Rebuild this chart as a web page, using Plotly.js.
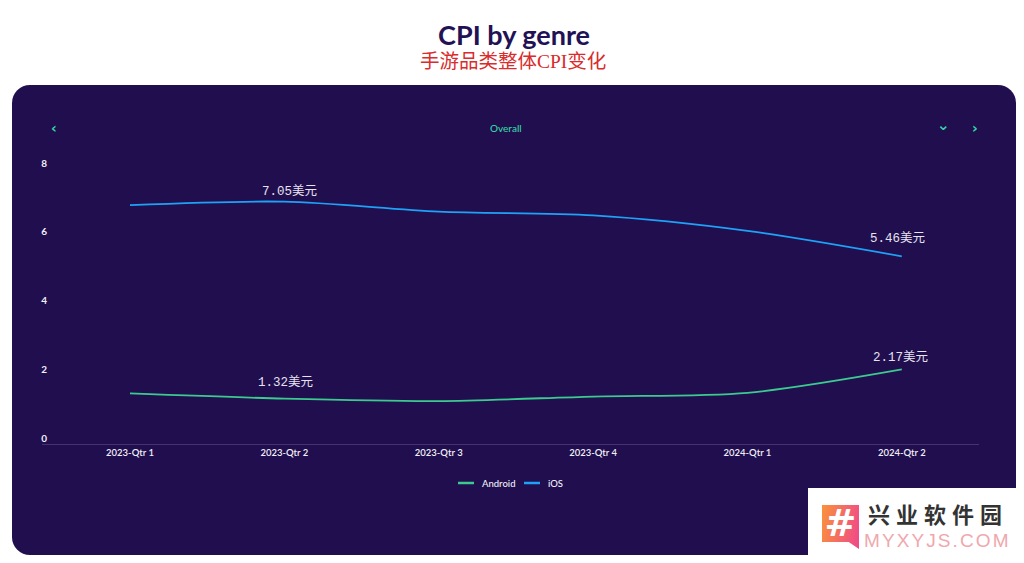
<!DOCTYPE html>
<html><head><meta charset="utf-8">
<script src="https://cdn.plot.ly/plotly-3.0.1.min.js"></script>
<style>
html,body{margin:0;padding:0;background:#fff;width:1024px;height:563px;overflow:hidden}
#panel{position:absolute;left:12px;top:85px;width:1004px;height:470px;background:#200e4f;border-radius:18px}
#chart{position:absolute;left:0;top:0;width:1024px;height:563px}
#wm{position:absolute;left:808px;top:488px;width:216px;height:75px;background:#fff;overflow:hidden}
#icon{position:absolute;left:14px;top:17px;width:37px;height:44px;background:linear-gradient(100deg,#f9923a,#f0478c);color:#fff;font:bold 38px/37px "DejaVu Sans";text-align:center;clip-path:polygon(0 0,100% 0,100% 100%,72% 84%,0 84%)}
#wm1{position:absolute;left:60px;top:14px;height:23px;font:bold 22px/23px "Noto Sans CJK SC";color:#333;letter-spacing:6px;white-space:nowrap}
#wm2{position:absolute;left:56px;top:44px;height:18px;font:19px/18px "Liberation Sans";color:#f0a7ad;letter-spacing:2.1px;white-space:nowrap}
</style></head>
<body>
<div id="panel"></div>
<div id="chart"></div>
<div id="wm"><div id="icon">#</div><div id="wm1">兴业软件园</div><div id="wm2">MYXYJS.COM</div></div>
<script>
const categories = ["2023-Qtr 1","2023-Qtr 2","2023-Qtr 3","2023-Qtr 4","2024-Qtr 1","2024-Qtr 2"];
const androidValues = [1.47,1.32,1.25,1.38,1.49,2.17];
const iosValues = [6.95,7.05,6.76,6.65,6.2,5.46];
const androidName = "Android";
const iosName = "iOS";
const titleText = "CPI by genre";
const subtitleText = "手游品类整体CPI变化";
const selectorText = "Overall";
const yTicks = [0,2,4,6,8];

const W=1024,H=563,L=42,R=979,T=169,B=444;
const androidColor='#3ccb8f', iosColor='#1ea2f7';
const px=x=>(x-L)/(R-L), py=y=>(B-y)/(B-T);
const fontUI='Lato, Inter, sans-serif';
const serif='"Liberation Serif","Noto Sans CJK SC",serif';
const mono='"Liberation Mono","Noto Sans CJK SC",monospace';
function pageText(text,x,y,size,color,family,weight,anchor){
  return {text,xref:'paper',yref:'paper',x:px(x),y:py(y),xanchor:anchor||'center',yanchor:'middle',showarrow:false,
    font:{size,color,family,weight:weight||400}};
}
function valueLabel(i,values,dx,dy){
  return {x:categories[i],y:values[i],xref:'x',yref:'y',text:values[i].toFixed(2)+'美元',showarrow:false,
    xshift:dx,yshift:dy,xanchor:'center',yanchor:'middle',font:{size:12.5,color:'#e6e3ee',family:mono}};
}
function legendKey(x0,x1,y,color){
  return {type:'line',xref:'paper',yref:'paper',x0:px(x0),x1:px(x1),y0:py(y),y1:py(y),line:{color,width:2.5}};
}
const line=(name,y,color)=>({type:'scatter',mode:'lines',name,x:categories,y,
  line:{color,width:1.8,shape:'spline',smoothing:0.85},hoverinfo:'skip'});
Plotly.newPlot('chart',[
  line(androidName,androidValues,androidColor),
  line(iosName,iosValues,iosColor)
],{
  width:W,height:H,margin:{l:L,r:W-R,t:T,b:H-B,pad:0},
  paper_bgcolor:'rgba(0,0,0,0)',plot_bgcolor:'rgba(0,0,0,0)',
  title:{text:titleText,x:0.502,xanchor:'center',y:0.937,yanchor:'middle',
    font:{family:fontUI,size:27,color:'#221155',weight:700}},
  xaxis:{type:'category',categoryorder:'array',categoryarray:categories,range:[-0.57,5.5],
    showgrid:false,zeroline:false,showline:true,linecolor:'#43336f',linewidth:1,ticks:'',
    tickfont:{family:fontUI,size:9.5,color:'#f2f0f7',weight:600}},
  yaxis:{range:[0,8],tickvals:yTicks,showgrid:false,zeroline:false,showline:false,ticks:'',
    ticklabelposition:'outside',ticklabelshift:-6,ticklabelstandoff:-6,
    tickfont:{family:fontUI,size:10,color:'#f2f0f7',weight:700}},
  showlegend:false,
  shapes:[legendKey(458,474,483,androidColor),legendKey(524,540,483,iosColor)],
  annotations:[
    pageText(subtitleText,513,62,19.5,'#d92c2c',serif),
    pageText(selectorText,506,128,10,'#35d6a4',fontUI,500),
    pageText('‹',54,128,14,'#35d6a4','DejaVu Sans',700),
    pageText('›',975,128,14,'#35d6a4','DejaVu Sans',700),
    pageText('⌄',943,125,15,'#35d6a4','DejaVu Sans',700),
    pageText(androidName,480,483,9.5,'#f2f0f7',fontUI,500,'left'),
    pageText(iosName,546,483,9.5,'#f2f0f7',fontUI,500,'left'),
    valueLabel(1,iosValues,5,10),
    valueLabel(5,iosValues,-4,18),
    valueLabel(1,androidValues,1,16),
    valueLabel(5,androidValues,-1,12)
  ]
},{displayModeBar:false,staticPlot:true});
</script>
</body></html>
